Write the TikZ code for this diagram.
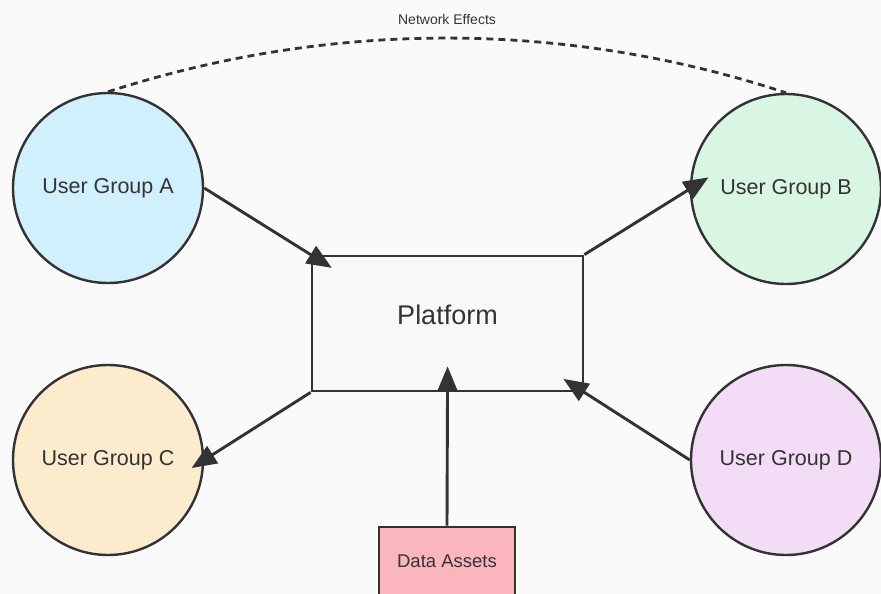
\documentclass[tikz,border=0pt]{standalone}
\usepackage{fontspec}
\setmainfont{Liberation Sans}
\usetikzlibrary{arrows.meta}
\definecolor{bg}{HTML}{FAFAFA}
\definecolor{ink}{HTML}{333333}
\definecolor{ca}{HTML}{CFF0FC}
\definecolor{cb}{HTML}{D9F5E3}
\definecolor{cc}{HTML}{FDEBCD}
\definecolor{cd}{HTML}{F3DCF5}
\definecolor{cdata}{HTML}{FBB5BD}
\definecolor{cplat}{HTML}{F8F8F8}
\tikzset{
  group/.style={circle, draw=ink, line width=2.4pt, minimum size=190pt, inner sep=0pt, font=\fontsize{21.5}{26}\selectfont, text=ink},
  platbox/.style={rectangle, draw=ink, line width=2.8pt, fill=cplat, minimum width=271pt, minimum height=135pt, inner sep=0pt},
  databox/.style={rectangle, draw=ink, line width=2.8pt, fill=cdata, minimum width=136pt, minimum height=80pt, inner sep=0pt},
  lbl/.style={text=ink, inner sep=0pt},
  arr/.style={draw=ink, line width=2.9pt, -{Triangle[length=25pt,width=20pt]}},
}
\begin{document}
\begin{tikzpicture}[x=1pt,y=-1pt]
\fill[bg] (0,0) rectangle (881,594);
\useasboundingbox (0,0) rectangle (881,594);
\node[group, fill=ca] (A) at (108,188) {User Group A};
\node[group, fill=cb] (B) at (786,189) {User Group B};
\node[group, fill=cc] (C) at (108,460) {User Group C};
\node[group, fill=cd] (D) at (786,460) {User Group D};
\node[platbox] (P) at (447.5,323.5) {};
\node[lbl, font=\fontsize{27}{32}\selectfont] (PL) at (447.5,315) {Platform};
\node[databox] (Dat) at (447,567) {};
\node[lbl, font=\fontsize{18.5}{22}\selectfont] (DatL) at (447,561) {Data Assets};
\node[lbl, font=\fontsize{14}{17}\selectfont] (NE) at (447,19) {Network Effects};
\draw[draw=ink, line width=2.8pt, dash pattern=on 7pt off 5pt] (A.north) .. controls (330,20) and (565,20) .. (B.north);
\draw[arr, shorten >=-25pt] (A.east) -- (P.north west);
\draw[arr, shorten >=-22pt] (P.north east) -- (B.west);
\draw[arr, shorten >=-15pt] (P.south west) -- (C.east);
\draw[arr, shorten >=-25pt] (D.west) -- (P.south east);
\draw[arr, shorten >=-26pt] (Dat.north) -- (P.south);
\end{tikzpicture}
\end{document}
